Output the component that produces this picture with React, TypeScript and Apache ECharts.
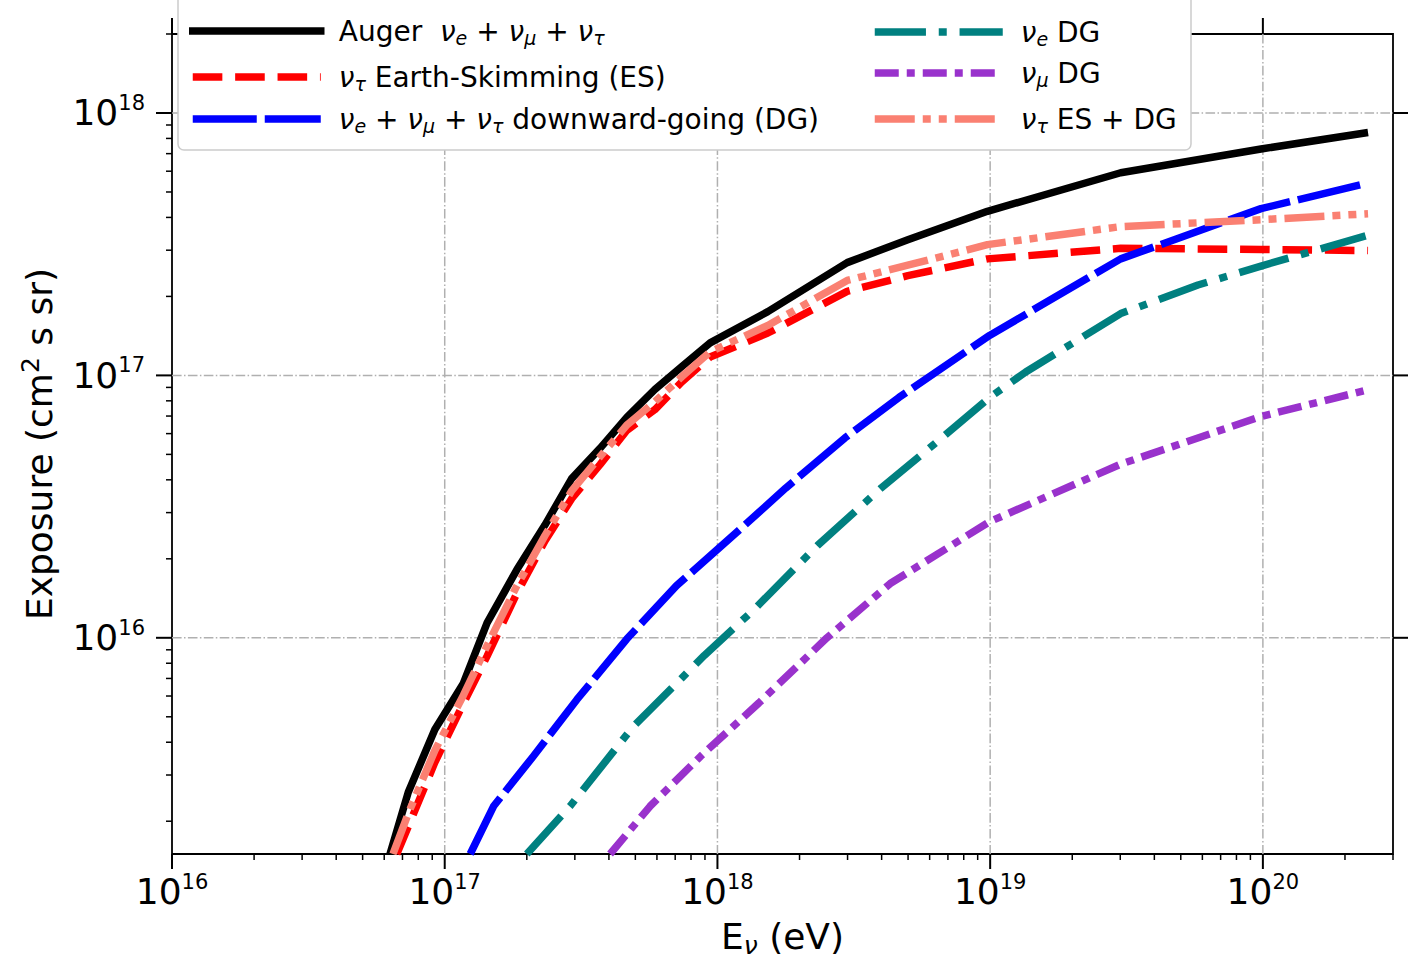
import React, { useEffect, useRef } from 'react';
import * as echarts from 'echarts';

// ---------- axis ranges & ticks ----------
const X_MIN = 1e16;
const X_MAX = 3e20;
const Y_MIN = 1.5e15;
const Y_MAX = 2e18;
const X_MAJOR = [1e16, 1e17, 1e18, 1e19, 1e20];
const Y_MAJOR = [1e16, 1e17, 1e18];
const X_DECADES = [1e16, 1e17, 1e18, 1e19, 1e20];
const Y_DECADES = [1e15, 1e16, 1e17, 1e18];
const MINOR_STEPS = [2, 3, 4, 5, 6, 7, 8, 9];

// ---------- series ----------
const SERIES_NAMES = [
  'Auger nu_e + nu_mu + nu_tau',
  'nu_tau Earth-Skimming (ES)',
  'nu_e + nu_mu + nu_tau downward-going (DG)',
  'nu_e DG',
  'nu_mu DG',
  'nu_tau ES + DG',
];
const LEGEND_LABELS = [
  'Auger  {n|ν}{s|e} + {n|ν}{s|μ} + {n|ν}{s|τ}',
  '{n|ν}{s|τ} Earth-Skimming (ES)',
  '{n|ν}{s|e} + {n|ν}{s|μ} + {n|ν}{s|τ} downward-going (DG)',
  '{n|ν}{s|e} DG',
  '{n|ν}{s|μ} DG',
  '{n|ν}{s|τ} ES + DG',
];
const COLORS = ['#000000', '#ff0000', '#0000ff', '#008080', '#9932cc', '#fa8072'];
const DASHES: (string | number[])[] = [
  'solid',
  [29.6, 12.8],
  [64, 8],
  [51.2, 12.8, 8, 12.8],
  [24, 8, 8, 8],
  [40, 8, 8, 8, 8, 8],
];

// Auger total, ES and ES+DG share the same energy grid (eV)
const AUGER_E = [6.3e16, 7.35e16, 9.2e16, 1.17e17, 1.43e17, 1.84e17, 2.33e17, 2.92e17, 3.71e17, 4.65e17, 5.9e17, 7.4e17, 9.4e17, 1.53e18, 2.99e18, 4.99e18, 9.77e18, 3.01e19, 9.84e19, 2.43e20];
const AUGER_EXP = [1.5e15, 2.58e15, 4.47e15, 6.7e15, 1.14e16, 1.82e16, 2.69e16, 4.04e16, 5.27e16, 6.92e16, 8.85e16, 1.08e17, 1.33e17, 1.75e17, 2.69e17, 3.29e17, 4.22e17, 5.92e17, 7.29e17, 8.43e17];

const ES_E = [6.67e16, 7.35e16, 9.2e16, 1.17e17, 1.43e17, 1.84e17, 2.33e17, 2.92e17, 3.71e17, 4.65e17, 5.9e17, 7.4e17, 9.4e17, 1.53e18, 2.99e18, 4.99e18, 9.77e18, 3.01e19, 9.84e19, 2.43e20];
const ES_EXP = [1.5e15, 1.91e15, 3.35e15, 5.62e15, 8.51e15, 1.48e16, 2.34e16, 3.39e16, 4.57e16, 6.17e16, 7.41e16, 9.44e16, 1.175e17, 1.45e17, 2.09e17, 2.4e17, 2.78e17, 3.05e17, 3.02e17, 2.99e17];

const DG_E = [1.24e17, 1.51e17, 2.11e17, 3.05e17, 4.65e17, 7.08e17, 1.17e18, 1.78e18, 2.93e18, 4.63e18, 9.95e18, 3.01e19, 9.84e19, 2.38e20];
const DG_EXP = [1.5e15, 2.28e15, 3.53e15, 5.81e15, 9.89e15, 1.58e16, 2.51e16, 3.72e16, 5.77e16, 8.24e16, 1.42e17, 2.78e17, 4.32e17, 5.38e17];

const NUE_E = [2.0e17, 2.88e17, 4.91e17, 7.28e17, 8.95e17, 1.36e18, 2.33e18, 3.98e18, 6.79e18, 9.95e18, 1.35e19, 3.01e19, 5.78e19, 9.84e19, 2.38e20];
const NUE_EXP = [1.5e15, 2.28e15, 4.59e15, 6.9e15, 8.57e15, 1.28e16, 2.25e16, 3.72e16, 5.89e16, 8.24e16, 1.03e17, 1.72e17, 2.21e17, 2.61e17, 3.4e17];

const NUMU_E = [4.04e17, 5.66e17, 8.71e17, 1.42e18, 2.52e18, 4.3e18, 9.95e18, 3.01e19, 9.84e19, 2.38e20];
const NUMU_EXP = [1.5e15, 2.28e15, 3.55e15, 5.65e15, 1.0e16, 1.61e16, 2.77e16, 4.59e16, 6.97e16, 8.77e16];

const ESDG_E = [6.46e16, 7.35e16, 9.2e16, 1.17e17, 1.43e17, 1.84e17, 2.33e17, 2.92e17, 3.71e17, 4.65e17, 5.9e17, 7.4e17, 9.4e17, 1.53e18, 2.99e18, 4.99e18, 9.77e18, 3.01e19, 9.84e19, 2.43e20];
const ESDG_EXP = [1.5e15, 2.14e15, 3.72e15, 6.03e15, 9.33e15, 1.58e16, 2.45e16, 3.63e16, 4.9e16, 6.46e16, 7.94e16, 9.89e16, 1.23e17, 1.55e17, 2.3e17, 2.63e17, 3.15e17, 3.69e17, 3.92e17, 4.13e17];

const ENERGIES = [AUGER_E, ES_E, DG_E, NUE_E, NUMU_E, ESDG_E];
const EXPOSURES = [AUGER_EXP, ES_EXP, DG_EXP, NUE_EXP, NUMU_EXP, ESDG_EXP];

const FONT = 'DejaVu Sans';
const LW = 7.5;

// legend placement (px): [left, top]
const LEGEND_POS = [
  [189, 11],
  [189, 57],
  [189, 99],
  [871, 12],
  [871, 53],
  [871, 99],
];

function buildOption() {
  const xMinor: number[] = [];
  X_DECADES.forEach((d) => MINOR_STEPS.forEach((m) => { const v = m * d; if (v > X_MIN && v <= X_MAX * 1.0000001) xMinor.push(v); }));
  const yMinor: number[] = [];
  Y_DECADES.forEach((d) => MINOR_STEPS.forEach((m) => { const v = m * d; if (v >= Y_MIN && v <= Y_MAX * 1.0000001) yMinor.push(v); }));

  const tickData: number[][] = [
    ...X_MAJOR.map((v) => [v, Y_MIN, 0]),
    ...xMinor.map((v) => [v, Y_MIN, 1]),
    ...Y_MAJOR.map((v) => [X_MIN, v, 2]),
    ...yMinor.map((v) => [X_MIN, v, 3]),
  ];

  const gridDash = [9.6, 2.4, 1.5, 2.4];

  const tickSeries: any = {
    type: 'custom',
    silent: true,
    z: 1,
    clip: false,
    data: tickData,
    encode: { x: 0, y: 1 },
    renderItem: (params: any, api: any) => {
      const cs = params.coordSys;
      const kind = api.value(2);
      const p = api.coord([api.value(0), api.value(1)]);
      const children: any[] = [];
      const line = (x1: number, y1: number, x2: number, y2: number, w: number, stroke = '#000', dash?: number[]) =>
        children.push({
          type: 'line',
          shape: { x1, y1, x2, y2 },
          style: { stroke, lineWidth: w, lineDash: dash },
        });
      const bottom = cs.y + cs.height;
      const right = cs.x + cs.width;
      if (kind === 0) {
        const x = p[0];
        if (x > cs.x + 1) line(x, cs.y, x, bottom, 1.5, '#b0b0b0', gridDash);
        line(x, bottom, x, bottom + 15, 2);
        line(x, cs.y, x, cs.y - 16, 2);
      } else if (kind === 1) {
        const x = p[0];
        line(x, bottom, x, bottom + 6, 1.5);
      } else if (kind === 2) {
        const y = p[1];
        line(cs.x, y, right, y, 1.5, '#b0b0b0', gridDash);
        line(cs.x, y, cs.x - 16, y, 2);
        line(right, y, right + 15, y, 2);
      } else {
        const y = p[1];
        line(cs.x, y, cs.x - 6, y, 1.5);
      }
      return { type: 'group', children };
    },
  };

  const lineSeries = SERIES_NAMES.map((name, i) => ({
    type: 'line',
    name,
    data: ENERGIES[i].map((e, j) => [e, EXPOSURES[i][j]]),
    symbol: 'none',
    showSymbol: false,
    silent: true,
    emphasis: { disabled: true },
    z: 2 + i * 0.01,
    lineStyle: { color: COLORS[i], width: LW, type: DASHES[i], cap: 'butt', join: 'round' },
    itemStyle: { color: COLORS[i] },
  }));

  const legendRich = {
    n: { fontFamily: FONT, fontStyle: 'italic', fontSize: 28, lineHeight: 40, verticalAlign: 'middle' },
    s: { fontFamily: FONT, fontStyle: 'italic', fontSize: 19, lineHeight: 40, verticalAlign: 'middle', padding: [14, 0, 0, 0] },
    g: { width: 13, lineHeight: 40, fontSize: 28 },
  };

  const legends = SERIES_NAMES.map((name, i) => ({
    data: [name],
    left: LEGEND_POS[i][0],
    top: LEGEND_POS[i][1],
    padding: 0,
    itemWidth: 128,
    itemHeight: 40,
    selectedMode: false,
    z: 4,
    formatter: () => '{g| }' + LEGEND_LABELS[i],
    itemStyle: { opacity: 0, borderWidth: 0 },
    lineStyle: { width: LW, cap: i === 0 ? 'square' : 'butt', opacity: 1 },
    textStyle: { fontFamily: FONT, fontSize: 28, color: '#000', lineHeight: 40, verticalAlign: 'middle', rich: legendRich },
  }));

  const powFormatter = (value: number) => {
    const l = Math.log10(value);
    const r = Math.round(l);
    if (Math.abs(l - r) > 1e-6) return '';
    return '{b|10}{sup|' + r + '}';
  };
  const tickRich = {
    b: { fontFamily: FONT, fontSize: 36, color: '#000', verticalAlign: 'middle' },
    sup: { fontFamily: FONT, fontSize: 21, color: '#000', verticalAlign: 'middle', padding: [0, 0, 20, 0] },
  };

  return {
    animation: false,
    textStyle: { fontFamily: FONT },
    grid: {
      left: 172,
      right: 29,
      top: 34,
      bottom: 110,
      show: true,
      borderColor: '#000',
      borderWidth: 1.8,
      backgroundColor: 'transparent',
      containLabel: false,
      outerBoundsMode: 'none',
    },
    xAxis: {
      type: 'log',
      logBase: 10,
      min: X_MIN,
      max: X_MAX,
      axisLine: { show: false },
      axisTick: { show: false },
      splitLine: { show: false },
      minorTick: { show: false },
      minorSplitLine: { show: false },
      axisLabel: { margin: 17, formatter: powFormatter, rich: tickRich, color: '#000' },
      name: 'E{sub|ν} (eV)',
      nameLocation: 'middle',
      nameGap: 64,
      nameTextStyle: {
        fontFamily: FONT,
        fontSize: 36,
        lineHeight: 36,
        color: '#000',
        rich: {
          sub: { fontFamily: FONT, fontStyle: 'italic', fontSize: 25, lineHeight: 36, color: '#000', verticalAlign: 'middle', padding: [18, 0, 0, 0] },
        },
      },
    },
    yAxis: {
      type: 'log',
      logBase: 10,
      min: Y_MIN,
      max: Y_MAX,
      axisLine: { show: false },
      axisTick: { show: false },
      splitLine: { show: false },
      minorTick: { show: false },
      minorSplitLine: { show: false },
      axisLabel: { margin: 27, formatter: powFormatter, rich: tickRich, color: '#000' },
      name: 'Exposure (cm{sup|2} s sr)',
      nameLocation: 'middle',
      nameGap: 111,
      nameTextStyle: {
        fontFamily: FONT,
        fontSize: 36,
        color: '#000',
        rich: {
          sup: { fontFamily: FONT, fontSize: 25, color: '#000', verticalAlign: 'middle', padding: [0, 0, 18, 0] },
        },
      },
    },
    legend: legends,
    graphic: {
      elements: [
        {
          type: 'rect',
          z: 3,
          silent: true,
          shape: { x: 178, y: -20, width: 1013, height: 170, r: 6 },
          style: { fill: '#ffffff', stroke: '#cccccc', lineWidth: 1.5 },
        },
        {
          type: 'line',
          z: 3,
          silent: true,
          shape: { x1: 172, y1: 18, x2: 172, y2: 34 },
          style: { stroke: '#000', lineWidth: 1.8 },
        },
      ],
    },
    series: [tickSeries, ...lineSeries],
  };
}

export default function App() {
  const ref = useRef<HTMLDivElement>(null);
  useEffect(() => {
    if (!ref.current) return;
    const chart = echarts.init(ref.current, null, { renderer: 'svg' });
    chart.setOption(buildOption() as any);
    return () => chart.dispose();
  }, []);
  return <div ref={ref} style={{ position: 'absolute', left: 0, top: 0, width: 1422, height: 964 }} />;
}
